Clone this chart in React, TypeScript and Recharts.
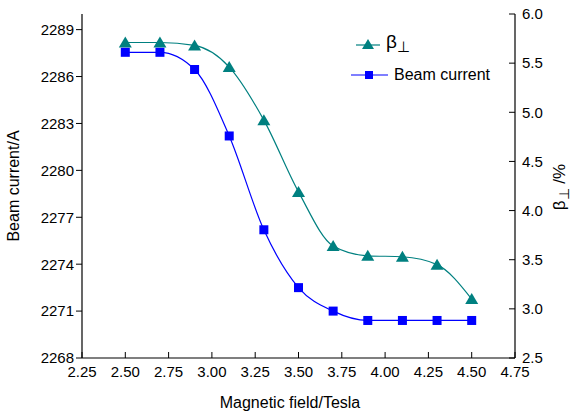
import React from 'react'
import {
  ComposedChart,
  Line,
  XAxis,
  YAxis,
  Legend,
} from 'recharts'

const FIELD = [2.5, 2.7, 2.9, 3.1, 3.3, 3.5, 3.7, 3.9, 4.1, 4.3, 4.5]
const BEAM_CURRENT = [2287.55, 2287.55, 2286.45, 2282.2, 2276.2, 2272.5, 2271.0, 2270.4, 2270.4, 2270.4, 2270.4]
const BETA_PERP = [5.71, 5.71, 5.68, 5.46, 4.92, 4.19, 3.64, 3.54, 3.53, 3.45, 3.1]

const X_TICKS = [2.25, 2.5, 2.75, 3.0, 3.25, 3.5, 3.75, 4.0, 4.25, 4.5, 4.75]
const LEFT_TICKS = [2268, 2271, 2274, 2277, 2280, 2283, 2286, 2289]
const RIGHT_TICKS = [2.5, 3.0, 3.5, 4.0, 4.5, 5.0, 5.5, 6.0]

const TEAL = '#008080'
const BLUE = '#0000ff'
const FONT = "Arial, 'Liberation Sans', sans-serif"

const data = FIELD.map((x, i) => ({ x, current: BEAM_CURRENT[i], beta: BETA_PERP[i] }))

const tickStyle = { fontSize: 15, fill: '#000', fontFamily: FONT }
const axisLine = { stroke: '#000', strokeWidth: 1.2 }

function TriangleDot(props: any) {
  const { cx, cy, index } = props
  if (cx == null || cy == null) return null
  return (
    <polygon
      key={`t-${index}`}
      points={`${cx},${cy - 6} ${cx - 6.5},${cy + 5} ${cx + 6.5},${cy + 5}`}
      fill={TEAL}
    />
  )
}

function SquareDot(props: any) {
  const { cx, cy, index } = props
  if (cx == null || cy == null) return null
  return <rect key={`s-${index}`} x={cx - 4.5} y={cy - 4.5} width={9} height={9} fill={BLUE} />
}

function LegendBox() {
  return (
    <div style={{ fontFamily: FONT, color: '#000' }}>
      <div style={{ display: 'flex', alignItems: 'center', height: 31 }}>
        <svg width={30} height={14}>
          <line x1={2} y1={8} x2={26} y2={8} stroke={TEAL} strokeWidth={1.2} />
          <polygon points="14,2 8,12 20,12" fill={TEAL} />
        </svg>
        <span style={{ fontSize: 19, marginLeft: 2 }}>
          β<sub style={{ fontSize: 15, verticalAlign: -4 }}>⊥</sub>
        </span>
      </div>
      <div style={{ display: 'flex', alignItems: 'center', height: 31, marginLeft: -4 }}>
        <svg width={42} height={14}>
          <line x1={1} y1={7} x2={38} y2={7} stroke={BLUE} strokeWidth={1.2} />
          <rect x={15} y={3} width={8} height={8} fill={BLUE} />
        </svg>
        <span style={{ fontSize: 16, marginLeft: 2 }}>Beam current</span>
      </div>
    </div>
  )
}

export default function App() {
  return (
    <div style={{ position: 'absolute', left: 0, top: 0, width: 571, height: 415, background: '#fff' }}>
      <ComposedChart
        width={571}
        height={415}
        data={data}
        margin={{ top: 14, right: 16, bottom: 27, left: 32 }}
      >
        <XAxis
          dataKey="x"
          type="number"
          domain={[2.25, 4.75]}
          ticks={X_TICKS}
          interval={0}
          tickFormatter={(v: number) => v.toFixed(2)}
          tick={tickStyle}
          axisLine={axisLine}
          tickLine={{ stroke: '#000' }}
          tickSize={-6}
          tickMargin={14}
          height={30}
          allowDataOverflow
        />
        <XAxis
          xAxisId="top"
          orientation="top"
          type="number"
          domain={[2.25, 4.75]}
          tick={false}
          tickLine={false}
          axisLine={axisLine}
          height={0}
        />
        <YAxis
          yAxisId="left"
          type="number"
          domain={[2268, 2290]}
          ticks={LEFT_TICKS}
          interval={0}
          tick={tickStyle}
          axisLine={axisLine}
          tickLine={{ stroke: '#000' }}
          tickSize={6}
          tickMargin={2}
          width={50}
          allowDataOverflow
        />
        <YAxis
          yAxisId="right"
          orientation="right"
          type="number"
          domain={[2.5, 6.0]}
          ticks={RIGHT_TICKS}
          interval={0}
          tickFormatter={(v: number) => v.toFixed(1)}
          tick={tickStyle}
          axisLine={axisLine}
          tickLine={{ stroke: '#000' }}
          tickSize={-6}
          tickMargin={13}
          width={40}
          allowDataOverflow
        />
        <Legend
          layout="horizontal"
          align="center"
          verticalAlign="middle"
          content={() => <LegendBox />}
          wrapperStyle={{ left: 354, top: 28, width: 170 }}
        />
        <Line
          yAxisId="right"
          dataKey="beta"
          type="monotone"
          stroke={TEAL}
          strokeWidth={1.2}
          dot={TriangleDot}
          activeDot={false}
          isAnimationActive={false}
        />
        <Line
          yAxisId="left"
          dataKey="current"
          type="monotone"
          stroke={BLUE}
          strokeWidth={1.2}
          dot={SquareDot}
          activeDot={false}
          isAnimationActive={false}
        />
      </ComposedChart>
      <div
        style={{
          position: 'absolute',
          left: 14,
          top: 186,
          transform: 'translate(-50%, -50%) rotate(-90deg)',
          whiteSpace: 'nowrap',
          fontFamily: FONT,
          fontSize: 16,
        }}
      >
        Beam current/A
      </div>
      <div
        style={{
          position: 'absolute',
          left: 561,
          top: 187,
          transform: 'translate(-50%, -50%) rotate(-90deg)',
          whiteSpace: 'nowrap',
          fontFamily: FONT,
          fontSize: 17,
        }}
      >
        β<sub style={{ fontSize: 14, verticalAlign: -4 }}>⊥</sub> /%
      </div>
      <div
        style={{
          position: 'absolute',
          left: 290,
          top: 403,
          transform: 'translate(-50%, -50%)',
          whiteSpace: 'nowrap',
          fontFamily: FONT,
          fontSize: 16,
        }}
      >
        Magnetic field/Tesla
      </div>
    </div>
  )
}
